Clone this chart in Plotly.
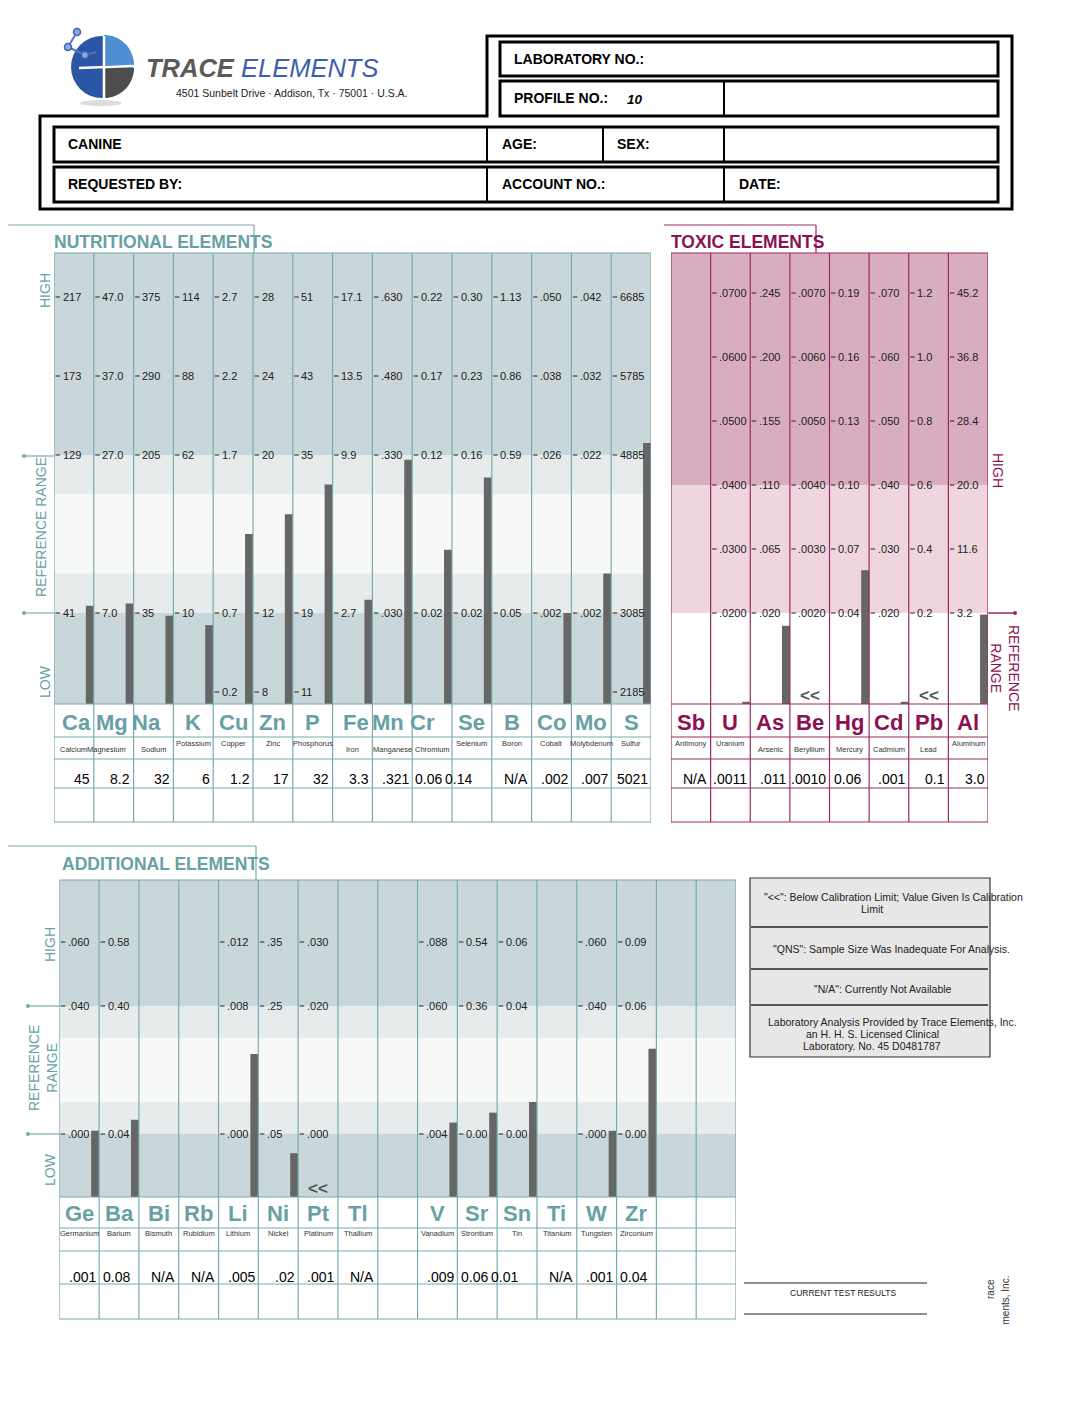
import numpy as np
import plotly.graph_objects as go

W, H = 1088, 1408
OFF = 8                      # the page body keeps an 8px margin
FW, FH = W - OFF, H - OFF    # figure size
FONT = "Liberation Sans, Arial, sans-serif"
TEAL = "#67a0a5"
TEAL_LN = "#78abb0"
MAG = "#8c1050"
MAG_LN = "#9a2a62"
BAR_CLR = "#666666"

# ---------------- data ----------------
nutr_symbols = ["Ca", "Mg", "Na", "K", "Cu", "Zn", "P", "Fe", "Mn", "Cr", "Se", "B", "Co", "Mo", "S"]
nutr_names = ["Calcium", "Magnesium", "Sodium", "Potassium", "Copper", "Zinc", "Phosphorus", "Iron",
              "Manganese", "Chromium", "Selenium", "Boron", "Cobalt", "Molybdenum", "Sulfur"]
# tick labels, rows: HIGH, upper, reference high, reference low, bottom
nutr_ticks = [
    ["217", "173", "129", "41", None],
    ["47.0", "37.0", "27.0", "7.0", None],
    ["375", "290", "205", "35", None],
    ["114", "88", "62", "10", None],
    ["2.7", "2.2", "1.7", "0.7", "0.2"],
    ["28", "24", "20", "12", "8"],
    ["51", "43", "35", "19", "11"],
    ["17.1", "13.5", "9.9", "2.7", None],
    [".630", ".480", ".330", ".030", None],
    ["0.22", "0.17", "0.12", "0.02", None],
    ["0.30", "0.23", "0.16", "0.02", None],
    ["1.13", "0.86", "0.59", "0.05", None],
    [".050", ".038", ".026", ".002", None],
    [".042", ".032", ".022", ".002", None],
    ["6685", "5785", "4885", "3085", "2185"],
]
nutr_results = ["45", "8.2", "32", "6", "1.2", "17", "32", "3.3", ".321", "0.06", "0.14", "N/A", ".002", ".007", "5021"]
nutr_flags = [""] * 15

toxic_symbols = ["Sb", "U", "As", "Be", "Hg", "Cd", "Pb", "Al"]
toxic_names = ["Antimony", "Uranium", "Arsenic", "Beryllium", "Mercury", "Cadmium", "Lead", "Aluminum"]
toxic_ticks = [
    None,
    [".0700", ".0600", ".0500", ".0400", ".0300", ".0200"],
    [".245", ".200", ".155", ".110", ".065", ".020"],
    [".0070", ".0060", ".0050", ".0040", ".0030", ".0020"],
    ["0.19", "0.16", "0.13", "0.10", "0.07", "0.04"],
    [".070", ".060", ".050", ".040", ".030", ".020"],
    ["1.2", "1.0", "0.8", "0.6", "0.4", "0.2"],
    ["45.2", "36.8", "28.4", "20.0", "11.6", "3.2"],
]
toxic_results = ["N/A", ".0011", ".011", ".0010", "0.06", ".001", "0.1", "3.0"]
toxic_flags = ["", "", "", "<<", "", "", "<<", ""]

add_symbols = ["Ge", "Ba", "Bi", "Rb", "Li", "Ni", "Pt", "Tl", "", "V", "Sr", "Sn", "Ti", "W", "Zr", "", ""]
add_names = ["Germanium", "Barium", "Bismuth", "Rubidium", "Lithium", "Nickel", "Platinum", "Thallium", "",
             "Vanadium", "Strontium", "Tin", "Titanium", "Tungsten", "Zirconium", "", ""]
# rows: HIGH, reference high, reference low
add_ticks = [
    [".060", ".040", ".000"],
    ["0.58", "0.40", "0.04"],
    None, None,
    [".012", ".008", ".000"],
    [".35", ".25", ".05"],
    [".030", ".020", ".000"],
    None, None,
    [".088", ".060", ".004"],
    ["0.54", "0.36", "0.00"],
    ["0.06", "0.04", "0.00"],
    None,
    [".060", ".040", ".000"],
    ["0.09", "0.06", "0.00"],
    None, None,
]
add_results = [".001", "0.08", "N/A", "N/A", ".005", ".02", ".001", "N/A", "",
               ".009", "0.06", "0.01", "N/A", ".001", "0.04", "", ""]
add_flags = ["", "", "", "", "", "", "<<", "", "", "", "", "", "", "", "", "", ""]

legend_lines = ['"<<": Below Calibration Limit; Value Given Is Calibration', "Limit",
                '"QNS": Sample Size Was Inadequate For Analysis.',
                '"N/A": Currently Not Available',
                "Laboratory Analysis Provided by Trace Elements, Inc.",
                "an H. H. S. Licensed Clinical", "Laboratory. No. 45 D0481787"]

fig = go.Figure()


def line(x0, y0, x1, y1, color, width=1, xref="x", yref="y", layer="above"):
    fig.add_shape(type="line", x0=x0, y0=y0, x1=x1, y1=y1, xref=xref, yref=yref,
                  line=dict(color=color, width=width), layer=layer)


def rect(x0, y0, x1, y1, color="black", width=1, fill="rgba(0,0,0,0)", xref="x", yref="y", layer="above"):
    fig.add_shape(type="rect", x0=x0, y0=y0, x1=x1, y1=y1, xref=xref, yref=yref,
                  line=dict(color=color, width=width), fillcolor=fill, layer=layer)


def text(x, y, s, size, color="black", xanchor="center", yanchor="middle", bold=False,
         xref="x", yref="y", angle=0, family=FONT):
    if bold:
        s = f"<b>{s}</b>"
    fig.add_annotation(x=x, y=y, text=s, xref=xref, yref=yref, showarrow=False,
                       xanchor=xanchor, yanchor=yanchor, textangle=angle,
                       font=dict(size=size, color=color, family=family))


def is_num(s):
    try:
        float(s)
        return True
    except (TypeError, ValueError):
        return False


def draw_panel(k, g, symbols, names, ticks, tick_levels, ref_pair, results, flags, st):
    xa, ya = f"x{k}", f"y{k}"
    n = len(symbols)
    cw = (g["x1"] - g["x0"]) / n
    ylo = (g["lvl0"] - g["bottom"]) / g["ppl"]
    yhi = (g["lvl0"] - g["top"]) / g["ppl"]
    fig.update_layout({
        f"xaxis{k}": dict(domain=[(g["x0"] - OFF) / FW, (g["x1"] - OFF) / FW], range=[0, n],
                          visible=False, fixedrange=True, anchor=ya),
        f"yaxis{k}": dict(domain=[1 - (g["bottom"] - OFF) / FH, 1 - (g["top"] - OFF) / FH],
                          range=[ylo, yhi], visible=False, fixedrange=True, anchor=xa),
    })
    # background bands
    for b0, b1, c in st["bands"]:
        b0 = ylo if b0 is None else b0
        b1 = yhi if b1 is None else b1
        fig.add_shape(type="rect", xref=xa, yref=ya, x0=0, x1=n, y0=b0, y1=b1,
                      fillcolor=c, line=dict(width=0), layer="below")
    # bars
    xs, hs = [], []
    ia, ib = ref_pair
    for i, (tk, r, f) in enumerate(zip(ticks, results, flags)):
        if tk is None or f or not is_num(r):
            continue
        va, vb = float(tk[ia]), float(tk[ib])
        la, lb = tick_levels[ia], tick_levels[ib]
        lvl = la + (float(r) - va) * (lb - la) / (vb - va)
        xs.append(i + 0.9)
        hs.append(max(lvl - ylo, 0.035))
    fig.add_trace(go.Bar(x=xs, y=hs, base=ylo, width=0.2, xaxis=xa, yaxis=ya,
                         marker=dict(color=BAR_CLR, line=dict(width=0)),
                         hoverinfo="skip", showlegend=False))
    # ticks
    for i, tk in enumerate(ticks):
        if tk is None:
            continue
        for s, L in zip(tk, tick_levels):
            if s is None:
                continue
            line(i + 1.5 / cw, L, i + 6 / cw, L, "#222", 1, xref=xa, yref=ya)
            text(i + 6.5 / cw, L, s, 11, "#222", xanchor="left", xref=xa, yref=ya)
    # grid
    bottom_row = g["rows"][-1]
    for i in range(n + 1):
        line(i, g["top"], i, bottom_row, st["line"], 1.2, xref=xa)
    for y in [g["top"]] + g["rows"]:
        line(0, y, n, y, st["line"], 1.2, xref=xa)
    # symbols / names / values
    for i, (s, nm, r) in enumerate(zip(symbols, names, results)):
        if s:
            text(i + 0.5 + st["sym_nudge"].get(s, 0) / cw, g["sym_y"], s, 22, st["color"], bold=True, xref=xa)
        if nm:
            ny = g["name_y"] + (6 if nm in st["name_low"] else 0)
            text(i + 0.5 + st["name_nudge"].get(nm, 0) / cw, ny, nm, 7.5, "#333", xref=xa)
        if r:
            if s in st["val_left"]:
                text(i + st["val_left"][s] / cw, g["val_y"], r, 14, xanchor="left", xref=xa)
            else:
                text(i + 1 - 1.5 / cw, g["val_y"], r, 14, xanchor="right", xref=xa)
    for i, f in enumerate(flags):
        if f:
            text(i + 0.5, g["flag_y"], f, 17, "#555", bold=True, xref=xa)


DARK, LIGHT, PALE = "#cad7da", "#e6ecec", "#f7f8f8"
PINK, PINK_LT = "#d9adc0", "#eed5de"

draw_panel(2, dict(x0=54, x1=651, top=253, bottom=704, lvl0=692, ppl=79,
                   rows=[704, 737, 759, 788, 822], sym_y=722, name_y=743, val_y=779, flag_y=695),
           nutr_symbols, nutr_names, nutr_ticks, [5, 4, 3, 1, 0], (2, 3), nutr_results, nutr_flags,
           dict(color=TEAL, line=TEAL_LN,
                bands=[(3, None, DARK), (2.5, 3, LIGHT), (1.5, 2.5, PALE), (1, 1.5, LIGHT), (None, 1, DARK)],
                sym_nudge={"Ca": 3, "Mg": -2, "Na": -7, "Fe": 3, "Mn": -4, "Cr": -10},
                name_nudge={"Magnesium": -7},
                name_low={"Calcium", "Magnesium", "Sodium", "Iron", "Manganese", "Chromium"},
                val_left={"Cr": 1, "Se": -9}))

draw_panel(3, dict(x0=671, x1=988, top=253, bottom=704, lvl0=613, ppl=64,
                   rows=[704, 737, 759, 788, 822], sym_y=722, name_y=743, val_y=779, flag_y=695),
           toxic_symbols, toxic_names, toxic_ticks, [5, 4, 3, 2, 1, 0], (5, 4), toxic_results, toxic_flags,
           dict(color=MAG, line=MAG_LN,
                bands=[(2, None, PINK), (0, 2, PINK_LT)],
                sym_nudge={}, name_nudge={},
                name_low={"Arsenic", "Beryllium", "Mercury", "Cadmium", "Lead"},
                val_left={"Hg": 2}))

draw_panel(4, dict(x0=59.3, x1=736, top=880, bottom=1197, lvl0=1134, ppl=64,
                   rows=[1197, 1228, 1251, 1284, 1319], sym_y=1213, name_y=1233, val_y=1277, flag_y=1188),
           add_symbols, add_names, add_ticks, [3, 2, 0], (1, 2), add_results, add_flags,
           dict(color=TEAL, line=TEAL_LN,
                bands=[(2, None, DARK), (1.5, 2, LIGHT), (0.5, 1.5, PALE), (0, 0.5, LIGHT), (None, 0, DARK)],
                sym_nudge={}, name_nudge={}, name_low=set(),
                val_left={"Ba": 2, "Sr": 2, "Sn": -8, "Zr": 1}))

# ---------------- section titles and side labels ----------------
text(52, 242, "NUTRITIONAL ELEMENTS", 17.5, TEAL, xanchor="left", bold=True)
line(0, 225, 254, 225, TEAL_LN, 1.2)
line(254, 225, 254, 253, TEAL_LN, 1.2)
text(45, 291, "HIGH", 14, TEAL, angle=-90)
text(41, 527, "REFERENCE RANGE", 14, TEAL, angle=-90)
text(45, 682, "LOW", 14, TEAL, angle=-90)
for y in (456, 613):
    line(24, y, 54, y, TEAL_LN, 1.2)
    fig.add_shape(type="circle", x0=22, x1=26, y0=y - 2, y1=y + 2, xref="x", yref="y",
                  fillcolor=TEAL_LN, line=dict(width=0))

text(669, 242, "TOXIC ELEMENTS", 17.5, MAG, xanchor="left", bold=True)
line(664, 225, 816, 225, MAG_LN, 1.2)
line(816, 225, 816, 253, MAG_LN, 1.2)
text(998, 470, "HIGH", 14, MAG, angle=90)
text(1005, 668, "REFERENCE<br>RANGE", 14, MAG, angle=90)
line(988, 613, 1015, 613, MAG_LN, 1.5)
fig.add_shape(type="circle", x0=1013, x1=1017, y0=611, y1=615, xref="x", yref="y",
              fillcolor=MAG_LN, line=dict(width=0))

text(60, 864, "ADDITIONAL ELEMENTS", 17.5, TEAL, xanchor="left", bold=True)
line(0, 846, 256, 846, TEAL_LN, 1.2)
line(256, 846, 256, 880, TEAL_LN, 1.2)
text(50, 945, "HIGH", 14, TEAL, angle=-90)
text(43, 1068, "REFERENCE<br>RANGE", 14, TEAL, angle=-90)
text(50, 1170, "LOW", 14, TEAL, angle=-90)
for y in (1006, 1134):
    line(28, y, 60, y, TEAL_LN, 1.2)
    fig.add_shape(type="circle", x0=26, x1=30, y0=y - 2, y1=y + 2, xref="x", yref="y",
                  fillcolor=TEAL_LN, line=dict(width=0))

# ---------------- header ----------------
fig.add_shape(type="path", path="M 487,36 L 1012,36 L 1012,209 L 40,209 L 40,116 L 487,116 Z",
              xref="x", yref="y", line=dict(color="black", width=3))
rect(500, 42, 998, 76, width=3)
rect(500, 81, 998, 116, width=3)
line(724, 81, 724, 116, "black", 2)
rect(54, 127, 998, 162, width=3)
line(487, 127, 487, 162, "black", 2)
line(603, 127, 603, 162, "black", 2)
line(724, 127, 724, 162, "black", 2)
rect(54, 167, 998, 202, width=3)
line(487, 167, 487, 202, "black", 2)
line(724, 167, 724, 202, "black", 2)
for x, y, s in [(512, 59, "LABORATORY NO.:"), (512, 98, "PROFILE NO.:"), (66, 144, "CANINE"),
                (500, 144, "AGE:"), (615, 144, "SEX:"), (66, 184, "REQUESTED BY:"),
                (500, 184, "ACCOUNT NO.:"), (737, 184, "DATE:")]:
    text(x, y, s, 14, "black", xanchor="left", bold=True)
text(625, 99, "<b><i>10</i></b>", 13.5, "black", xanchor="left")


# logo
def wedge(cx, cy, r, a0, a1, n=30):
    a = np.radians(np.linspace(a0, a1, n))
    pts = " L ".join(f"{cx + r * np.cos(t):.2f},{cy + r * np.sin(t):.2f}" for t in a)
    return f"M {cx},{cy} L {pts} Z"


cx, cy, r = 102, 67, 31
fig.add_shape(type="circle", x0=80, x1=122, y0=100, y1=106, xref="x", yref="y",
              fillcolor="#dcdcdc", line=dict(width=0))
fig.add_shape(type="circle", x0=cx - r, x1=cx + r, y0=cy - r, y1=cy + r, xref="x", yref="y",
              fillcolor="#2b56a6", line=dict(width=0))
fig.add_shape(type="path", path=wedge(cx + 2, cy - 2, r - 1, -90, 0), xref="x", yref="y",
              fillcolor="#4e8fd2", line=dict(width=0))
fig.add_shape(type="path", path=wedge(cx + 2, cy + 1, r - 1, 0, 90), xref="x", yref="y",
              fillcolor="#4d4d4d", line=dict(width=0))
line(cx + 2, cy - r, cx + 2, cy + r, "white", 2.5)
line(cx - r + 8, cy + 1, cx + r, cy - 1, "white", 2.5)
for (x0, y0), (x1, y1) in [((77, 32), (68, 47)), ((68, 47), (85, 55)), ((85, 55), (96, 52))]:
    line(x0, y0, x1, y1, "#5577bb", 2)
for x0, y0 in [(77, 32), (68, 47), (85, 55)]:
    fig.add_shape(type="circle", x0=x0 - 3.5, x1=x0 + 3.5, y0=y0 - 3.5, y1=y0 + 3.5, xref="x", yref="y",
                  fillcolor="#8fa8dd", line=dict(color="#3f63ad", width=1.5))
text(144, 68, '<b><i><span style="color:#5a5a5a">TRACE</span></i></b> '
              '<i><span style="color:#3a5fb0">ELEMENTS</span></i>', 25.5, "#3a5fb0",
     xanchor="left")
text(174, 93, "4501 Sunbelt Drive · Addison, Tx · 75001 · U.S.A.", 10.5, "#222", xanchor="left")

# ---------------- legend box ----------------
rect(750, 878, 990, 1057, color="#333", width=1.2, fill="#e7e7e7", layer="below")
for y in (927, 969, 1005):
    line(751, y, 988, y, "#555", 2)
text(762, 897, legend_lines[0], 10.5, "#222", xanchor="left")
text(872, 909, legend_lines[1], 10.5, "#222")
text(771, 949, legend_lines[2], 10.5, "#222", xanchor="left")
text(812, 989, legend_lines[3], 10.5, "#222", xanchor="left")
text(766, 1022, legend_lines[4], 10.5, "#222", xanchor="left")
text(872, 1034, legend_lines[5], 10.5, "#222")
text(872, 1046, legend_lines[6], 10.5, "#222")

# ---------------- footer ----------------
line(744, 1283, 927, 1283, "#222", 1.2)
line(744, 1314, 927, 1314, "#222", 1.2)
text(843, 1293, "CURRENT TEST RESULTS", 8.5, "#222")
text(990, 1277, "race", 10, "#333", yanchor="top", angle=-90)
text(1005, 1274, "ments, Inc.", 10, "#333", yanchor="top", angle=-90)

fig.update_layout(
    width=FW, height=FH, margin=dict(l=0, r=0, t=0, b=0),
    paper_bgcolor="white", plot_bgcolor="rgba(0,0,0,0)",
    xaxis=dict(range=[OFF, W], domain=[0, 1], visible=False, fixedrange=True),
    yaxis=dict(range=[H, OFF], domain=[0, 1], visible=False, fixedrange=True),
    showlegend=False, font=dict(family=FONT),
)

fig.write_html("out.html")
